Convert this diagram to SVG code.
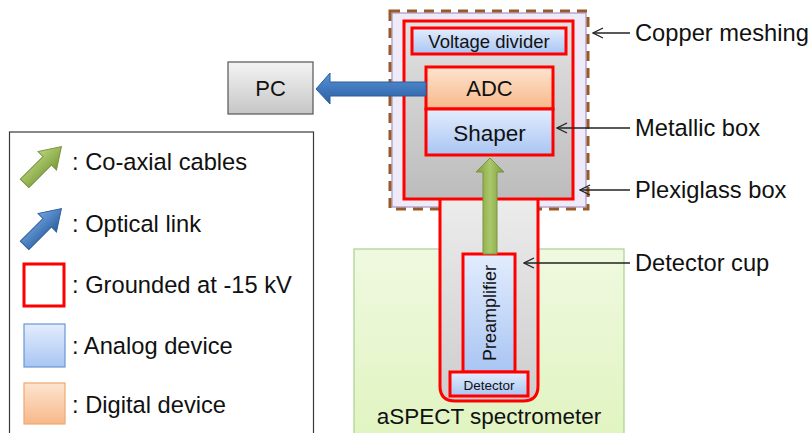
<svg xmlns="http://www.w3.org/2000/svg" width="812" height="433" viewBox="0 0 812 433">
<defs>
<linearGradient id="gAnalog" x1="0" y1="0" x2="0" y2="1"><stop offset="0" stop-color="#e3edfd"/><stop offset="1" stop-color="#a9c5f3"/></linearGradient>
<linearGradient id="gDigital" x1="0" y1="0" x2="0" y2="1"><stop offset="0" stop-color="#fde4d0"/><stop offset="1" stop-color="#f7b889"/></linearGradient>
<linearGradient id="gMetal" x1="0" y1="0" x2="0" y2="1"><stop offset="0" stop-color="#e2e2e2"/><stop offset="1" stop-color="#bcbcbc"/></linearGradient>
<linearGradient id="gCup" x1="0" y1="0" x2="0" y2="1"><stop offset="0" stop-color="#ececec"/><stop offset="1" stop-color="#cdcdcd"/></linearGradient>
<linearGradient id="gPC" x1="0" y1="0" x2="0" y2="1"><stop offset="0" stop-color="#f4f4f4"/><stop offset="1" stop-color="#c6c6c6"/></linearGradient>
<linearGradient id="gSpec" x1="0" y1="0" x2="0" y2="1"><stop offset="0" stop-color="#f0f9e0"/><stop offset="1" stop-color="#e0f4c0"/></linearGradient>
<linearGradient id="gGreen" x1="0" y1="0" x2="1" y2="0"><stop offset="0" stop-color="#7f9c3e"/><stop offset="0.5" stop-color="#a9c86a"/><stop offset="1" stop-color="#7f9c3e"/></linearGradient>
<linearGradient id="gBlue" x1="0" y1="0" x2="0" y2="1"><stop offset="0" stop-color="#5b93d3"/><stop offset="0.5" stop-color="#3f78bd"/><stop offset="1" stop-color="#2e609f"/></linearGradient>
<linearGradient id="gGreenL" x1="0" y1="0" x2="0" y2="1"><stop offset="0" stop-color="#b7d57a"/><stop offset="1" stop-color="#7a9a38"/></linearGradient>
<linearGradient id="gBlueL" x1="0" y1="0" x2="0" y2="1"><stop offset="0" stop-color="#6fa3e0"/><stop offset="1" stop-color="#2c5e9e"/></linearGradient>
<marker id="open" viewBox="0 0 12 12" refX="11" refY="6" markerWidth="12" markerHeight="12" markerUnits="userSpaceOnUse" orient="auto">
<path d="M1,1 L11,6 L1,11" fill="none" stroke="#222" stroke-width="1.3"/>
</marker>
<style>
text{font-family:"Liberation Sans",Arial,sans-serif;fill:#111}
.red{stroke:#ff0000;stroke-width:3}
.lbl{font-size:23.7px}
.ann{stroke:#222;stroke-width:1.3;fill:none}
</style>
</defs>

<g id="spectrometer">
<rect x="354" y="249" width="270" height="190" fill="url(#gSpec)" stroke="#a9d18e" stroke-width="1.2"/>
<text x="489" y="424" font-size="22.5" text-anchor="middle">aSPECT spectrometer</text>
</g>

<g id="plexiglass-box">
<rect x="392" y="13" width="194" height="194" fill="#efeaf8" stroke="#a393c9" stroke-width="1.2"/>
<rect x="390" y="11" width="198" height="198" fill="none" stroke="#985a28" stroke-width="3" stroke-dasharray="10 7"/>
</g>

<g id="detector-cup">
<path d="M440,199 L440,386 Q440,401 455,401 L523,401 Q538,401 538,386 L538,199" fill="url(#gCup)" class="red"/>
</g>

<g id="metallic-box">
<rect x="404" y="21" width="169" height="178" fill="url(#gMetal)" class="red"/>
</g>

<g id="voltage-divider">
<rect x="412" y="28" width="154" height="26" fill="url(#gAnalog)" class="red"/>
<text x="489" y="48" font-size="18.5" text-anchor="middle">Voltage divider</text>
</g>

<g id="adc">
<rect x="426" y="67" width="127" height="42" fill="url(#gDigital)" class="red"/>
<text x="489.5" y="96" font-size="22" text-anchor="middle">ADC</text>
</g>

<g id="shaper">
<rect x="426" y="109" width="127" height="46" fill="url(#gAnalog)" class="red"/>
<text x="489.5" y="141" font-size="22.5" text-anchor="middle">Shaper</text>
</g>

<g id="pc">
<rect x="228" y="62" width="85" height="52" fill="url(#gPC)" stroke="#555" stroke-width="1.2"/>
<text x="270.5" y="96" font-size="22" text-anchor="middle">PC</text>
</g>

<g id="preamplifier">
<rect x="463" y="254" width="52" height="118" fill="url(#gAnalog)" class="red"/>
<text transform="translate(496,313) rotate(-90)" font-size="18" text-anchor="middle">Preamplifier</text>
</g>

<g id="detector">
<rect x="450" y="372" width="78" height="24" fill="url(#gAnalog)" class="red"/>
<text x="489" y="390" font-size="13.5" text-anchor="middle">Detector</text>
</g>

<g id="connectors">
<path d="M483,254 L483,172 L476,172 L490,158 L504,172 L497,172 L497,254 Z" fill="url(#gGreen)" stroke="#7a953c" stroke-width="1"/>
<path d="M426,82 L330,82 L330,73 L316,89 L330,104 L330,96 L426,96 Z" fill="url(#gBlue)" stroke="#2d5f9c" stroke-width="1"/>
<line x1="630" y1="33" x2="593" y2="33" class="ann" marker-end="url(#open)"/>
<line x1="630" y1="128" x2="557" y2="128" class="ann" marker-end="url(#open)"/>
<line x1="630" y1="190" x2="580" y2="190" class="ann" marker-end="url(#open)"/>
<line x1="630" y1="263" x2="524" y2="263" class="ann" marker-end="url(#open)"/>
</g>

<g id="annotations">
<text x="635" y="41" class="lbl">Copper meshing</text>
<text x="635" y="136" class="lbl">Metallic box</text>
<text x="635" y="198" class="lbl">Plexiglass box</text>
<text x="635" y="271" class="lbl">Detector cup</text>
</g>

<g id="legend">
<rect x="9.5" y="132" width="304" height="310" fill="#fff" stroke="#3a3a3a" stroke-width="1.2"/>
<g transform="translate(43,165) rotate(-45)">
<path d="M-26,-6 L6,-6 L6,-13 L26,0 L6,13 L6,6 L-26,6 Z" fill="url(#gGreenL)" stroke="#76923c" stroke-width="1"/>
</g>
<text x="72" y="170" class="lbl">: Co-axial cables</text>
<g transform="translate(43,227) rotate(-45)">
<path d="M-26,-6 L6,-6 L6,-13 L26,0 L6,13 L6,6 L-26,6 Z" fill="url(#gBlueL)" stroke="#2d5f9c" stroke-width="1"/>
</g>
<text x="72" y="232" class="lbl">: Optical link</text>
<rect x="24" y="264" width="40" height="42" fill="#fff" class="red"/>
<text x="72" y="293" class="lbl">: Grounded at -15 kV</text>
<rect x="24" y="324" width="41" height="43" fill="url(#gAnalog)" stroke="#6a97d4" stroke-width="1.2"/>
<text x="72" y="354" class="lbl">: Analog device</text>
<rect x="24" y="383" width="41" height="41" fill="url(#gDigital)" stroke="#f0a870" stroke-width="1.2"/>
<text x="72" y="413" class="lbl">: Digital device</text>
</g>
</svg>
